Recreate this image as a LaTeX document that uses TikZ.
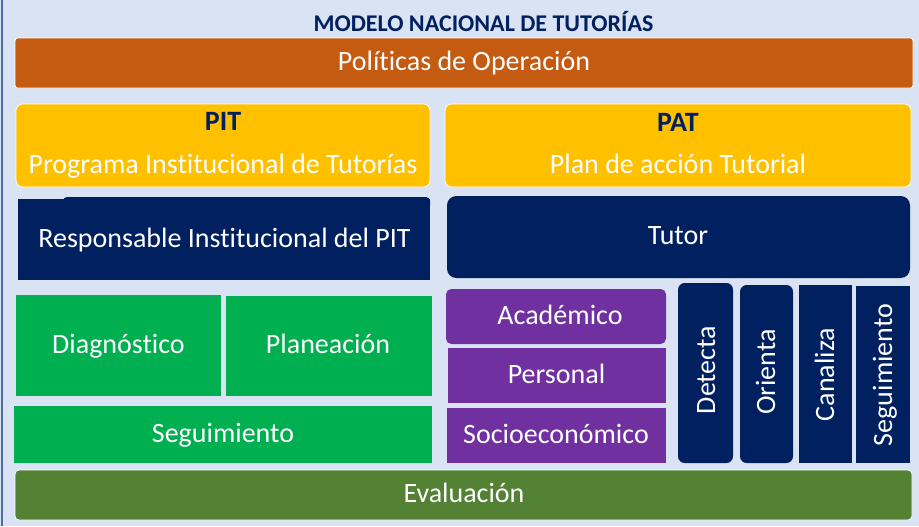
\documentclass[tikz,border=0pt]{standalone}
\usepackage{fontspec}
\setmainfont{Carlito}[Ligatures=NoCommon]
\definecolor{bgc}{HTML}{DAE3F3}
\definecolor{navy}{HTML}{002060}
\definecolor{orangec}{HTML}{C55A11}
\definecolor{goldc}{HTML}{FFC000}
\definecolor{greenc}{HTML}{00B050}
\definecolor{olivec}{HTML}{548235}
\definecolor{purplec}{HTML}{7030A0}
\definecolor{framec}{HTML}{4A6FA0}
\tikzset{
  box/.style={inner sep=0pt, text=white, font=\fontsize{21}{24}\selectfont, anchor=base},
  hbox/.style={box, font=\bfseries\fontsize{21}{24}\selectfont, text=navy},
}
\begin{document}
\begin{tikzpicture}[x=0.75pt,y=-0.75pt]
\useasboundingbox (0,0) rectangle (919,526);
\fill[bgc] (0,0) rectangle (919,526);
\fill[framec] (1,0) rectangle (3,526);
% title
\node[box, font=\bfseries\fontsize{18}{21}\selectfont, text=navy] (title) at (483.5,31) {MODELO NACIONAL DE TUTORÍAS};
% politicas
\draw[white, fill=orangec, rounded corners=2pt, line width=0.6pt] (15,38) rectangle (913,88);
\node[box] (pol) at (464,70) {Políticas de Operación};
% PIT / PAT
\draw[white, fill=goldc, rounded corners=5pt, line width=0.6pt] (16,104) rectangle (430,187);
\node[hbox] (pit) at (223,130) {PIT};
\node[box] (pitt) at (223,173) {Programa Institucional de Tutorías};
\draw[white, fill=goldc, rounded corners=5pt, line width=0.6pt] (445,104) rectangle (911,187);
\node[hbox] (pat) at (678,131) {PAT};
\node[box] (patt) at (678,173) {Plan de acción Tutorial};
% responsable / tutor
\fill[navy] (18,199) rectangle (430,280);
\fill[navy, rounded corners=3pt] (63,197) rectangle (430,210);
\node[box] (resp) at (224.5,247) {Responsable Institucional del PIT};
\fill[navy, rounded corners=7pt] (447,196) rectangle (910,278);
\node[box] (tutor) at (678,244) {Tutor};
% green
\fill[greenc] (16,295) rectangle (221,396);
\node[box] (diag) at (118.5,353) {Diagnóstico};
\fill[greenc] (226,296) rectangle (432,396);
\node[box] (plan) at (328,353) {Planeación};
\fill[greenc] (14,406) rectangle (432,463);
\node[box] (seg1) at (223,442) {Seguimiento};
% purple
\fill[purplec, rounded corners=4pt] (446,289) rectangle (666,344);
\node[box] (acad) at (560,324) {Académico};
\fill[purplec] (448,348) rectangle (666,403);
\node[box] (pers) at (556.5,383) {Personal};
\fill[purplec] (447,408) rectangle (666,463);
\node[box] (socio) at (556,443) {Socioeconómico};
% vertical
\fill[navy, rounded corners=5pt] (678,283) rectangle (733,463);
\node[box, rotate=90] (det) at (715,370) {Detecta};
\fill[navy, rounded corners=5pt] (740,285) rectangle (793,463);
\node[box, rotate=90] (ori) at (775,372) {Orienta};
\fill[navy] (799,285) rectangle (852,463);
\node[box, rotate=90] (can) at (834,374.5) {Canaliza};
\fill[navy] (856,286) rectangle (910,463);
\node[box, rotate=90] (seg2) at (892,375) {Seguimiento};
% evaluacion
\draw[white, fill=olivec, rounded corners=3pt, line width=0.6pt] (15,470) rectangle (912,520);
\node[box] (eval) at (464,502) {Evaluación};
\end{tikzpicture}
\end{document}
